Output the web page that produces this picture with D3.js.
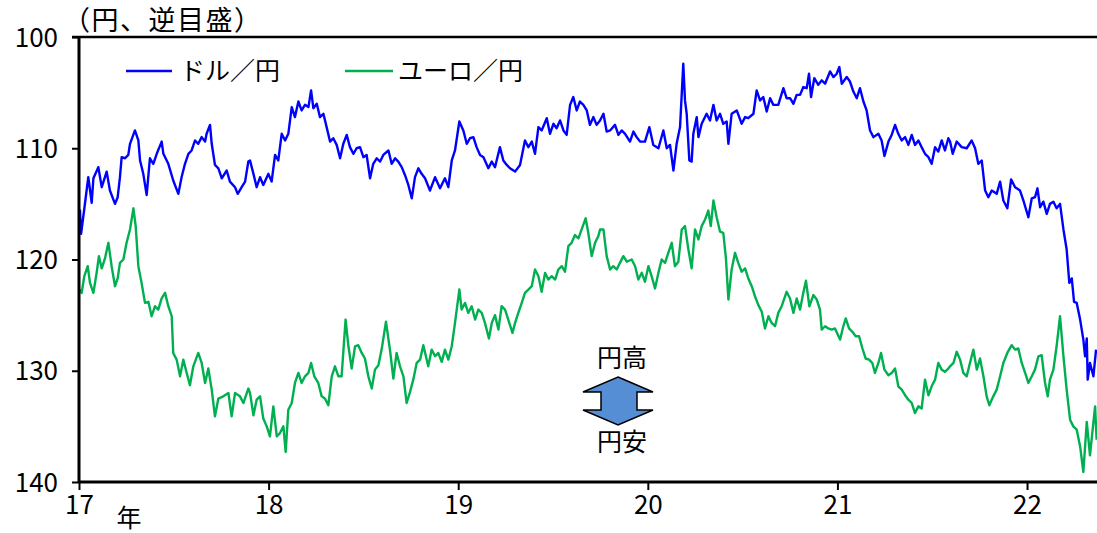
<!DOCTYPE html>
<html><head><meta charset="utf-8">
<script src="https://cdn.jsdelivr.net/npm/d3@7"></script>
<style>
html,body{margin:0;padding:0;background:#fff;}
svg{display:block;}
text{font-family:"Noto Sans CJK JP","Noto Sans",sans-serif;fill:#000;}
</style></head>
<body><svg id="chart" width="1097" height="533"></svg>
<script>
// ---- data (time in decimal years, 17 = 2017) ----
const usdTime = [17.005,17.011,17.032,17.049,17.067,17.076,17.102,17.120,17.146,17.163,17.190,17.204,17.216,17.225,17.243,17.260,17.269,17.295,17.313,17.322,17.339,17.357,17.374,17.392,17.410,17.436,17.445,17.471,17.497,17.524,17.541,17.559,17.577,17.594,17.612,17.629,17.647,17.665,17.673,17.691,17.700,17.717,17.735,17.753,17.779,17.796,17.823,17.837,17.858,17.876,17.893,
17.902,17.920,17.937,17.955,17.972,17.999,18.016,18.034,18.051,18.069,18.087,18.104,18.122,18.139,18.157,18.174,18.192,18.210,18.224,18.236,18.254,18.271,18.289,18.306,18.324,18.341,18.359,18.377,18.394,18.412,18.429,18.447,18.464,18.482,18.500,18.517,18.535,18.552,18.570,18.588,18.605,18.632,18.649,18.667,18.684,18.702,18.719,18.737,18.755,18.772,18.790,18.807,18.825,
18.851,18.878,18.904,18.930,18.948,18.966,18.983,19.006,19.027,19.045,19.062,19.080,19.097,19.115,19.133,19.159,19.177,19.194,19.220,19.238,19.256,19.273,19.300,19.326,19.352,19.370,19.388,19.405,19.423,19.440,19.467,19.484,19.502,19.519,19.537,19.555,19.572,19.590,19.607,19.625,19.642,19.660,19.678,19.695,19.713,19.730,
19.748,19.766,19.783,19.801,19.827,19.845,19.862,19.880,19.906,19.924,19.941,19.959,19.985,20.008,20.029,20.056,20.082,20.100,20.117,20.135,20.152,20.170,20.187,20.196,20.205,20.219,20.231,20.240,20.258,20.267,20.284,20.310,20.328,20.346,20.363,20.381,20.398,20.416,20.425,20.442,20.469,20.495,20.513,20.530,20.557,20.574,20.592,20.609,20.627,20.645,20.662,
20.671,20.688,20.715,20.732,20.750,20.768,20.785,20.803,20.820,20.838,20.850,20.861,20.878,20.899,20.917,20.935,20.961,20.979,20.996,21.010,21.023,21.049,21.066,21.084,21.102,21.119,21.137,21.154,21.172,21.190,21.216,21.233,21.248,21.269,21.286,21.304,21.321,21.339,21.357,21.374,21.392,21.409,21.427,21.444,21.462,21.480,21.497,21.515,21.532,21.550,21.567,21.585,
21.594,21.608,21.629,21.655,21.682,21.708,21.726,21.743,21.761,21.779,21.796,21.814,21.840,21.858,21.875,21.896,21.916,21.937,21.963,21.981,22.007,22.025,22.042,22.055,22.069,22.086,22.104,22.121,22.139,22.156,22.174,22.192,22.209,22.223,22.236,22.248,22.262,22.280,22.297,22.306,22.315,22.320,22.332,22.350,22.364];
const usdValues = [115.5,117.7,114.9,112.6,114.9,112.7,111.7,113.5,112.1,113.8,115.0,114.4,112.6,110.8,110.9,110.6,109.6,108.4,109.3,111.1,112.3,114.2,110.9,111.4,110.5,109.4,110.5,111.4,112.9,114.1,112.6,111.4,110.5,110.2,109.3,109.6,109.0,109.4,108.7,107.9,109.6,111.5,111.8,112.7,112.0,113.0,113.5,114.1,113.5,113.0,111.2,
111.1,112.3,113.5,112.6,113.3,112.3,113.0,110.6,111.1,108.7,109.3,108.7,106.3,107.2,105.8,106.6,106.1,106.3,104.8,106.4,106.0,107.2,106.9,108.1,109.4,109.1,109.7,110.9,109.6,108.8,109.9,110.5,110.0,109.9,110.8,110.6,112.7,111.4,110.9,111.2,110.6,110.2,111.4,110.9,111.2,111.7,112.4,113.3,114.5,112.6,111.8,112.3,112.7,
113.8,112.6,113.6,112.7,113.5,111.1,110.2,107.6,108.4,109.6,109.1,109.0,109.9,110.6,110.8,111.8,111.2,111.7,109.9,111.1,111.5,111.8,112.1,111.5,109.3,109.9,109.4,110.5,108.1,108.4,107.3,108.7,107.8,108.2,107.5,108.4,108.8,106.1,105.4,106.6,105.8,106.1,106.6,107.9,107.2,107.9,
107.5,106.9,108.5,108.4,107.9,108.8,108.4,108.7,109.4,108.5,109.0,109.4,109.4,108.1,109.7,110.0,108.4,110.0,109.7,112.0,109.6,108.1,102.4,105.7,106.9,111.1,111.2,108.7,107.2,109.0,107.8,106.9,107.5,106.1,107.5,106.9,107.8,107.6,109.6,106.9,106.6,107.8,107.2,107.3,106.9,104.8,105.7,105.4,106.7,105.5,106.1,
106.1,106.1,104.6,105.5,105.5,106.0,105.2,105.2,104.5,104.6,103.3,105.4,103.7,104.3,103.9,104.2,103.1,103.6,103.3,102.7,104.2,103.6,104.0,104.9,105.5,104.6,105.8,106.6,108.4,109.0,108.7,109.3,110.7,109.4,108.8,107.9,108.7,109.3,109.0,109.7,108.8,109.7,109.3,109.9,110.5,110.8,111.4,109.9,110.3,109.3,110.2,109.1,
109.4,110.5,109.4,109.9,110.0,109.3,110.0,111.4,111.1,113.8,114.4,113.8,114.1,113.0,114.7,115.4,112.8,113.5,113.8,114.7,116.2,114.5,114.4,113.6,115.3,114.8,115.9,115.0,114.8,115.4,115.0,117.3,119.1,122.1,121.7,123.8,123.9,125.4,127.2,128.7,127.1,130.8,129.3,130.5,128.1];

const eurTime = [17.005,17.014,17.028,17.046,17.058,17.076,17.093,17.105,17.120,17.137,17.155,17.172,17.190,17.204,17.216,17.234,17.251,17.269,17.287,17.299,17.313,17.330,17.348,17.366,17.383,17.401,17.418,17.436,17.454,17.471,17.489,17.497,17.515,17.533,17.550,17.568,17.585,17.603,17.629,17.647,17.665,17.682,17.700,17.717,17.735,17.761,17.788,17.805,17.823,17.849,17.867,17.893,
17.902,17.920,17.937,17.955,17.972,17.990,18.007,18.025,18.043,18.060,18.078,18.090,18.104,18.122,18.139,18.157,18.174,18.192,18.210,18.224,18.241,18.262,18.280,18.297,18.315,18.333,18.350,18.368,18.385,18.406,18.421,18.438,18.456,18.473,18.491,18.508,18.526,18.544,18.561,18.579,18.596,18.619,18.640,18.658,18.675,18.693,18.711,18.728,18.746,18.763,18.781,18.799,18.816,
18.842,18.860,18.878,18.895,18.913,18.930,18.948,18.966,18.983,19.006,19.018,19.036,19.053,19.071,19.089,19.106,19.124,19.141,19.162,19.177,19.194,19.212,19.229,19.247,19.264,19.286,19.300,19.317,19.335,19.352,19.370,19.388,19.405,19.423,19.440,19.458,19.475,19.493,19.511,19.528,19.546,19.563,19.581,19.598,19.616,19.634,19.651,19.672,19.686,19.704,19.722,19.739,
19.748,19.766,19.783,19.801,19.818,19.836,19.853,19.871,19.889,19.915,19.933,19.950,19.968,19.985,20.003,20.020,20.038,20.056,20.073,20.091,20.108,20.126,20.143,20.161,20.179,20.196,20.214,20.231,20.249,20.267,20.284,20.302,20.319,20.332,20.346,20.363,20.381,20.398,20.412,20.425,20.442,20.460,20.477,20.495,20.513,20.530,20.548,20.565,20.583,20.601,20.618,20.636,20.653,
20.671,20.688,20.706,20.732,20.750,20.768,20.785,20.803,20.820,20.834,20.852,20.873,20.891,20.908,20.917,20.935,20.952,20.970,20.987,21.014,21.031,21.044,21.061,21.079,21.096,21.114,21.132,21.149,21.167,21.184,21.198,21.216,21.230,21.248,21.269,21.286,21.304,21.321,21.339,21.357,21.374,21.392,21.409,21.427,21.444,21.462,21.480,21.497,21.515,21.532,21.550,21.567,21.585,
21.594,21.612,21.629,21.647,21.664,21.682,21.699,21.717,21.735,21.752,21.770,21.787,21.801,21.822,21.840,21.858,21.875,21.896,21.919,21.937,21.954,21.972,21.990,22.007,22.025,22.042,22.060,22.077,22.095,22.109,22.121,22.139,22.156,22.174,22.192,22.209,22.227,22.244,22.262,22.280,22.297,22.315,22.332,22.346,22.359,22.367];
const eurValues = [122.7,123.0,121.5,120.6,122.1,123.0,121.2,119.7,120.8,119.9,118.5,120.6,122.4,121.7,120.3,120.0,118.5,117.3,115.4,117.0,120.6,122.1,123.9,123.8,125.1,124.2,124.5,123.5,123.0,124.2,125.1,128.4,129.0,130.5,129.0,130.2,131.3,129.6,128.4,129.3,131.1,129.8,131.7,134.1,132.5,132.3,132.0,134.1,132.0,132.3,132.9,131.6,
132.0,134.0,132.6,132.3,134.3,135.0,135.9,133.2,135.9,135.6,135.0,137.3,133.5,132.9,131.1,130.2,131.1,130.5,130.2,129.3,130.5,131.1,132.3,132.5,133.1,130.5,129.6,130.5,130.5,125.4,127.8,129.8,127.8,127.7,128.4,128.9,130.5,131.6,129.9,129.5,128.1,125.6,128.1,130.7,128.4,129.6,130.5,132.9,131.9,130.8,129.3,129.0,127.7,
129.6,128.1,128.7,128.4,129.2,128.1,129.0,127.8,125.7,122.7,124.5,123.9,124.8,124.2,125.4,124.5,124.8,125.7,127.1,125.7,125.0,126.3,124.2,124.5,125.4,126.6,125.7,124.8,123.9,123.0,122.7,122.4,120.9,121.5,122.9,121.2,121.8,121.5,121.8,120.9,120.6,121.1,118.8,118.5,117.8,118.1,117.3,116.3,117.6,119.7,118.5,117.9,
117.3,117.3,119.7,120.9,120.6,120.9,120.3,119.7,120.2,120.0,120.6,121.8,121.2,122.0,120.6,121.5,122.6,121.2,120.0,120.3,119.4,118.5,120.6,120.2,117.3,117.0,119.1,120.8,117.3,118.2,117.0,116.4,115.6,117.0,114.7,116.2,117.5,117.6,119.9,123.6,120.9,119.4,120.3,121.1,120.8,121.7,122.4,123.3,124.1,124.7,126.2,125.1,125.7,
126.0,124.8,124.2,122.9,123.5,124.8,123.5,124.5,123.0,121.9,124.2,123.2,123.6,124.5,126.3,126.0,126.2,126.3,126.2,127.2,126.0,125.3,126.2,126.5,126.9,126.9,128.0,128.9,129.0,129.3,130.2,129.3,128.4,129.9,130.4,130.2,129.8,131.4,131.7,132.2,132.6,132.9,133.8,133.2,133.4,130.8,132.2,131.4,130.8,129.3,129.9,130.1,129.8,
129.6,129.3,128.3,129.0,130.2,130.5,129.3,128.1,129.9,128.9,130.5,132.3,133.1,132.3,131.7,130.5,129.3,128.4,127.7,128.1,128.0,129.3,130.2,131.1,130.5,129.9,128.7,128.6,131.1,132.3,130.8,129.9,127.8,125.1,128.7,131.7,134.4,135.0,135.3,136.8,139.1,134.6,137.6,135.3,133.2,136.2];

const yTicks = [100,110,120,130,140];
const xTicks = [17,18,19,20,21,22];
const xTickLabels = ["17","18","19","20","21","22"];
const seriesNames = ["ドル／円","ユーロ／円"];
const seriesColors = ["#0000FF","#00B050"];
const yTitle = "（円、逆目盛）";
const yearLabel = "年";
const arrowLabels = ["円高","円安"];

// ---- layout ----
const svg = d3.select("#chart");
const L = 79, R = 1097, T = 37, B = 482;
const x = d3.scaleLinear().domain([17, 22.369]).range([L, R]);
const y = d3.scaleLinear().domain([100, 140]).range([T, B]);

const series = [
  {name: seriesNames[0], color: seriesColors[0], data: usdTime.map((t,i)=>[t, usdValues[i]])},
  {name: seriesNames[1], color: seriesColors[1], data: eurTime.map((t,i)=>[t, eurValues[i]])}
];

const line = d3.line().x(d=>x(d[0])).y(d=>y(d[1]));
series.forEach(s=>{
  svg.append("path").datum(s.data).attr("d", line)
    .attr("fill","none").attr("stroke", s.color).attr("stroke-width", 2.4)
    .attr("stroke-linejoin","round");
});

// top border line
svg.append("line").attr("x1", L-7).attr("x2", R).attr("y1", T).attr("y2", T)
  .attr("stroke","#000").attr("stroke-width",2.5);

// y axis
const yAxis = svg.append("g").attr("transform",`translate(${L},0)`)
  .call(d3.axisLeft(y).tickValues(yTicks).tickSize(7).tickPadding(14).tickFormat(d3.format("d")));
yAxis.select(".domain").remove();
yAxis.selectAll(".tick line").attr("stroke","#000").attr("stroke-width",2);
yAxis.selectAll(".tick text").style("font-size","26px").attr("dy","0.35em");
svg.append("line").attr("x1",L).attr("x2",L).attr("y1",T).attr("y2",B)
  .attr("stroke","#000").attr("stroke-width",3);

// x axis
const xAxis = svg.append("g").attr("transform",`translate(0,${B})`)
  .call(d3.axisBottom(x).tickValues(xTicks).tickSize(8).tickPadding(6).tickFormat((d,i)=>xTickLabels[i]));
xAxis.select(".domain").remove();
xAxis.selectAll(".tick line").attr("stroke","#000").attr("stroke-width",2);
xAxis.selectAll(".tick text").style("font-size","26px");
svg.append("line").attr("x1",L).attr("x2",R).attr("y1",B).attr("y2",B)
  .attr("stroke","#000").attr("stroke-width",3);

svg.append("text").attr("x",129).attr("y",527).attr("text-anchor","middle")
  .style("font-size","25px").text(yearLabel);

// y title
svg.append("text").attr("x",63).attr("y",30).style("font-size","27px")
  .style("letter-spacing","1.5px").text(yTitle);

// legend
const legendPos = [[126,172,180],[345,393,398]];
series.forEach((s,i)=>{
  const [x1,x2,tx] = legendPos[i];
  svg.append("line").attr("x1",x1).attr("x2",x2).attr("y1",71).attr("y2",71)
    .attr("stroke",s.color).attr("stroke-width",2.4);
  svg.append("text").attr("x",tx).attr("y",71).attr("dy","0.35em")
    .style("font-size","25px").text(s.name);
});

// arrow annotation
const cx = 618;
const arrowPts = [[cx,377],[cx+35,392],[cx+19,392],[cx+19,410],[cx+35,410],[cx,425],[cx-35,410],[cx-17,410],[cx-17,392],[cx-35,392]];
svg.append("polygon").attr("points", arrowPts.map(p=>p.join(",")).join(" "))
  .attr("fill","#558ED5").attr("stroke","#000").attr("stroke-width",1.5).attr("stroke-linejoin","miter");
svg.append("text").attr("x",622).attr("y",358).attr("dy","0.35em").attr("text-anchor","middle")
  .style("font-size","25px").text(arrowLabels[0]);
svg.append("text").attr("x",622).attr("y",442).attr("dy","0.35em").attr("text-anchor","middle")
  .style("font-size","25px").text(arrowLabels[1]);
</script></body></html>
